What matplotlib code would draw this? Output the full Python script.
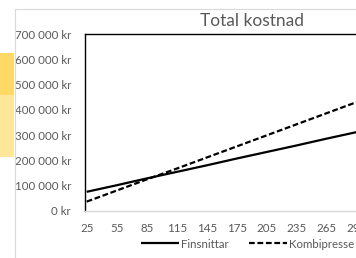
import matplotlib
matplotlib.use("Agg")
import matplotlib.pyplot as plt
from matplotlib.patches import Rectangle
from matplotlib.lines import Line2D
from matplotlib.ticker import FuncFormatter

# Data
x_vals = [25, 55, 85, 115, 145, 175, 205, 235, 265, 295, 325]
finsnittar = [75000, 101000, 128000, 154000, 180000, 207000, 233000, 259000, 286000, 312000, 338000]
kombipresse = [36000, 80000, 124000, 167000, 211000, 255000, 299000, 343000, 387000, 431000, 474000]
x_ticks = [25, 55, 85, 115, 145, 175, 205, 235, 265, 295, 325]
y_ticks = [0, 100000, 200000, 300000, 400000, 500000, 600000, 700000]
title = "Total kostnad"
series_names = ["Finsnittar", "Kombipresse"]

W, H = 356, 258
DPI = 100
plt.rcParams['font.family'] = ['Lato', 'DejaVu Sans']
fig = plt.figure(figsize=(W / DPI, H / DPI), dpi=DPI)
fig.patch.set_facecolor('white')

def fx(px):
    return px / W

def fy(py):
    return 1 - py / H

# yellow cells at the left edge
fig.patches.append(Rectangle((0, fy(95)), fx(14), fy(53) - fy(95), transform=fig.transFigure,
                             facecolor='#FFD966', edgecolor='none', zorder=0))
fig.patches.append(Rectangle((0, fy(157)), fx(14), fy(95) - fy(157), transform=fig.transFigure,
                             facecolor='#FFE699', edgecolor='none', zorder=0))
# chart area border (light gray)
fig.add_artist(Line2D([fx(14.5), fx(14.5)], [fy(8.5), 0], transform=fig.transFigure,
                      color='#d9d9d9', lw=0.8))
fig.add_artist(Line2D([fx(14.5), 1], [fy(8.5), fy(8.5)], transform=fig.transFigure,
                      color='#d9d9d9', lw=0.8))

xmin, xmax = 23.3, 330
left_px, top_px, bot_px = 85, 34.3, 210.7
ax = fig.add_axes([fx(left_px), fy(bot_px), (xmax - xmin) / W, (bot_px - top_px) / H])
ax.set_xlim(xmin, xmax)
ax.set_ylim(0, 700000)

l1, = ax.plot(x_vals, finsnittar, color='black', lw=1.6, solid_capstyle='butt')
l2, = ax.plot(x_vals, kombipresse, color='black', lw=1.6, linestyle=(0, (2.6, 1.2)))

ax.set_xticks(x_ticks)
ax.set_yticks(y_ticks)
ax.yaxis.set_major_formatter(FuncFormatter(lambda v, p: f"{int(v):,}".replace(",", " ") + " kr"))
ax.tick_params(axis='both', length=0, labelsize=8.3, labelcolor='#595959')
ax.tick_params(axis='y', pad=10)
ax.tick_params(axis='x', pad=9)

for s in ['left', 'top', 'right']:
    ax.spines[s].set_color('black')
    ax.spines[s].set_linewidth(1.0)
ax.spines['bottom'].set_color('#d9d9d9')
ax.spines['bottom'].set_linewidth(1.0)

fig.text(fx(252), fy(21), title, ha='center', va='center', fontsize=12.5, color='#595959')

leg = fig.legend([l1, l2], series_names, loc='center left',
                 bbox_to_anchor=(fx(141), fy(244)), ncol=2, frameon=False,
                 fontsize=8.3, handlelength=3.3, handletextpad=0.2,
                 columnspacing=1.7, borderpad=0, borderaxespad=0)
for t in leg.get_texts():
    t.set_color('#595959')

fig.savefig("out.png", dpi=DPI)
